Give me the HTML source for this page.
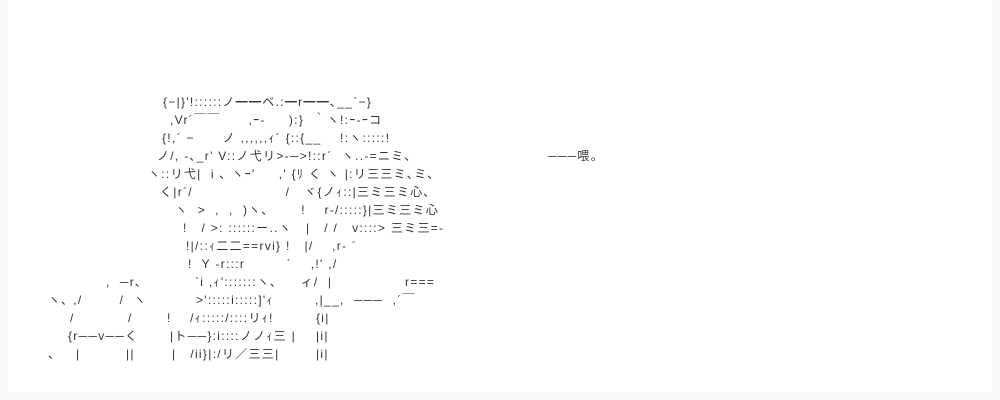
<!DOCTYPE html>
<html><head><meta charset="utf-8"><style>
html,body{margin:0;padding:0;background:#fff;}
body{width:1000px;height:400px;position:relative;overflow:hidden;}
.f{position:absolute;left:0;top:0;width:1000px;height:400px;box-sizing:border-box;border:8px solid #f7f7f7;border-top:none;}
.t{position:absolute;white-space:pre;font-family:"Liberation Sans","Noto Sans CJK JP",sans-serif;font-size:12px;line-height:14px;color:#333;letter-spacing:1.3px;}
</style></head><body>
<div class="f"></div>
<div class="t" style="left:163px;top:95px">{−|}'!::::::ノ━━ベ.:━r━━､__`−}</div>
<div class="t" style="left:170px;top:113px">,Vr´￣￣      ,ｰ‐     ):}  ｀ヽ!:ｰ‐ｰコ</div>
<div class="t" style="left:162px;top:131px">{!,´ −      ノ ,,,,,,ｨ´ {::{__    !:ヽ:::::!</div>
<div class="t" style="left:157px;top:149px">ノ/, ‐､_r' V::ノ弋リ>‐─>!::r´  ヽ..‐=ニミ､</div>
<div class="t" style="left:148px;top:167px">ヽ::リ弋|  i ､ ヽｰ'     ,' {ﾘ く ヽ |:リ三三ミ､ミ､</div>
<div class="t" style="left:160px;top:185px">く|r´/                    /   ヾ{ノｨ::|三ミ三ミ心､</div>
<div class="t" style="left:175px;top:203px">ヽ  >  ,  ,  )ヽ､       !    r‐/:::::}|三ミ三ミ心</div>
<div class="t" style="left:183px;top:221px">!   / >: ::::::ー..ヽ   |   / /   v::::> 三ミ三=‐</div>
<div class="t" style="left:186px;top:239px">!|/::ｨ二二==rvi} !   |/    ,r‐ ´</div>
<div class="t" style="left:188px;top:257px">!  Y ‐r:::r         ´    ,!' ,/</div>
<div class="t" style="left:106px;top:275px">,  ─r､</div>
<div class="t" style="left:195px;top:275px">`i ,ｨ':::::::ヽ､     ィ/  |</div>
<div class="t" style="left:405px;top:275px">r===</div>
<div class="t" style="left:48px;top:293px">ヽ､ ,/        /  ヽ</div>
<div class="t" style="left:196px;top:293px">>':::::i:::::]'ｨ</div>
<div class="t" style="left:315px;top:293px">,|__,  ───  ,´￣</div>
<div class="t" style="left:70px;top:311px">/</div>
<div class="t" style="left:128px;top:311px">/</div>
<div class="t" style="left:167px;top:311px">!    /ｨ:::::/::::リｨ!</div>
<div class="t" style="left:316px;top:311px">{i|</div>
<div class="t" style="left:68px;top:329px">{r──v──く</div>
<div class="t" style="left:170px;top:329px">|ト──}:i::::ノノｨ三 |</div>
<div class="t" style="left:316px;top:329px">|i|</div>
<div class="t" style="left:48px;top:347px">、</div>
<div class="t" style="left:76px;top:347px">|</div>
<div class="t" style="left:126px;top:347px">||</div>
<div class="t" style="left:172px;top:347px">|   /ii}|:/リ／三三|</div>
<div class="t" style="left:316px;top:347px">|i|</div>
<div class="t" style="left:548px;top:149px">───喂。</div>
</body></html>
